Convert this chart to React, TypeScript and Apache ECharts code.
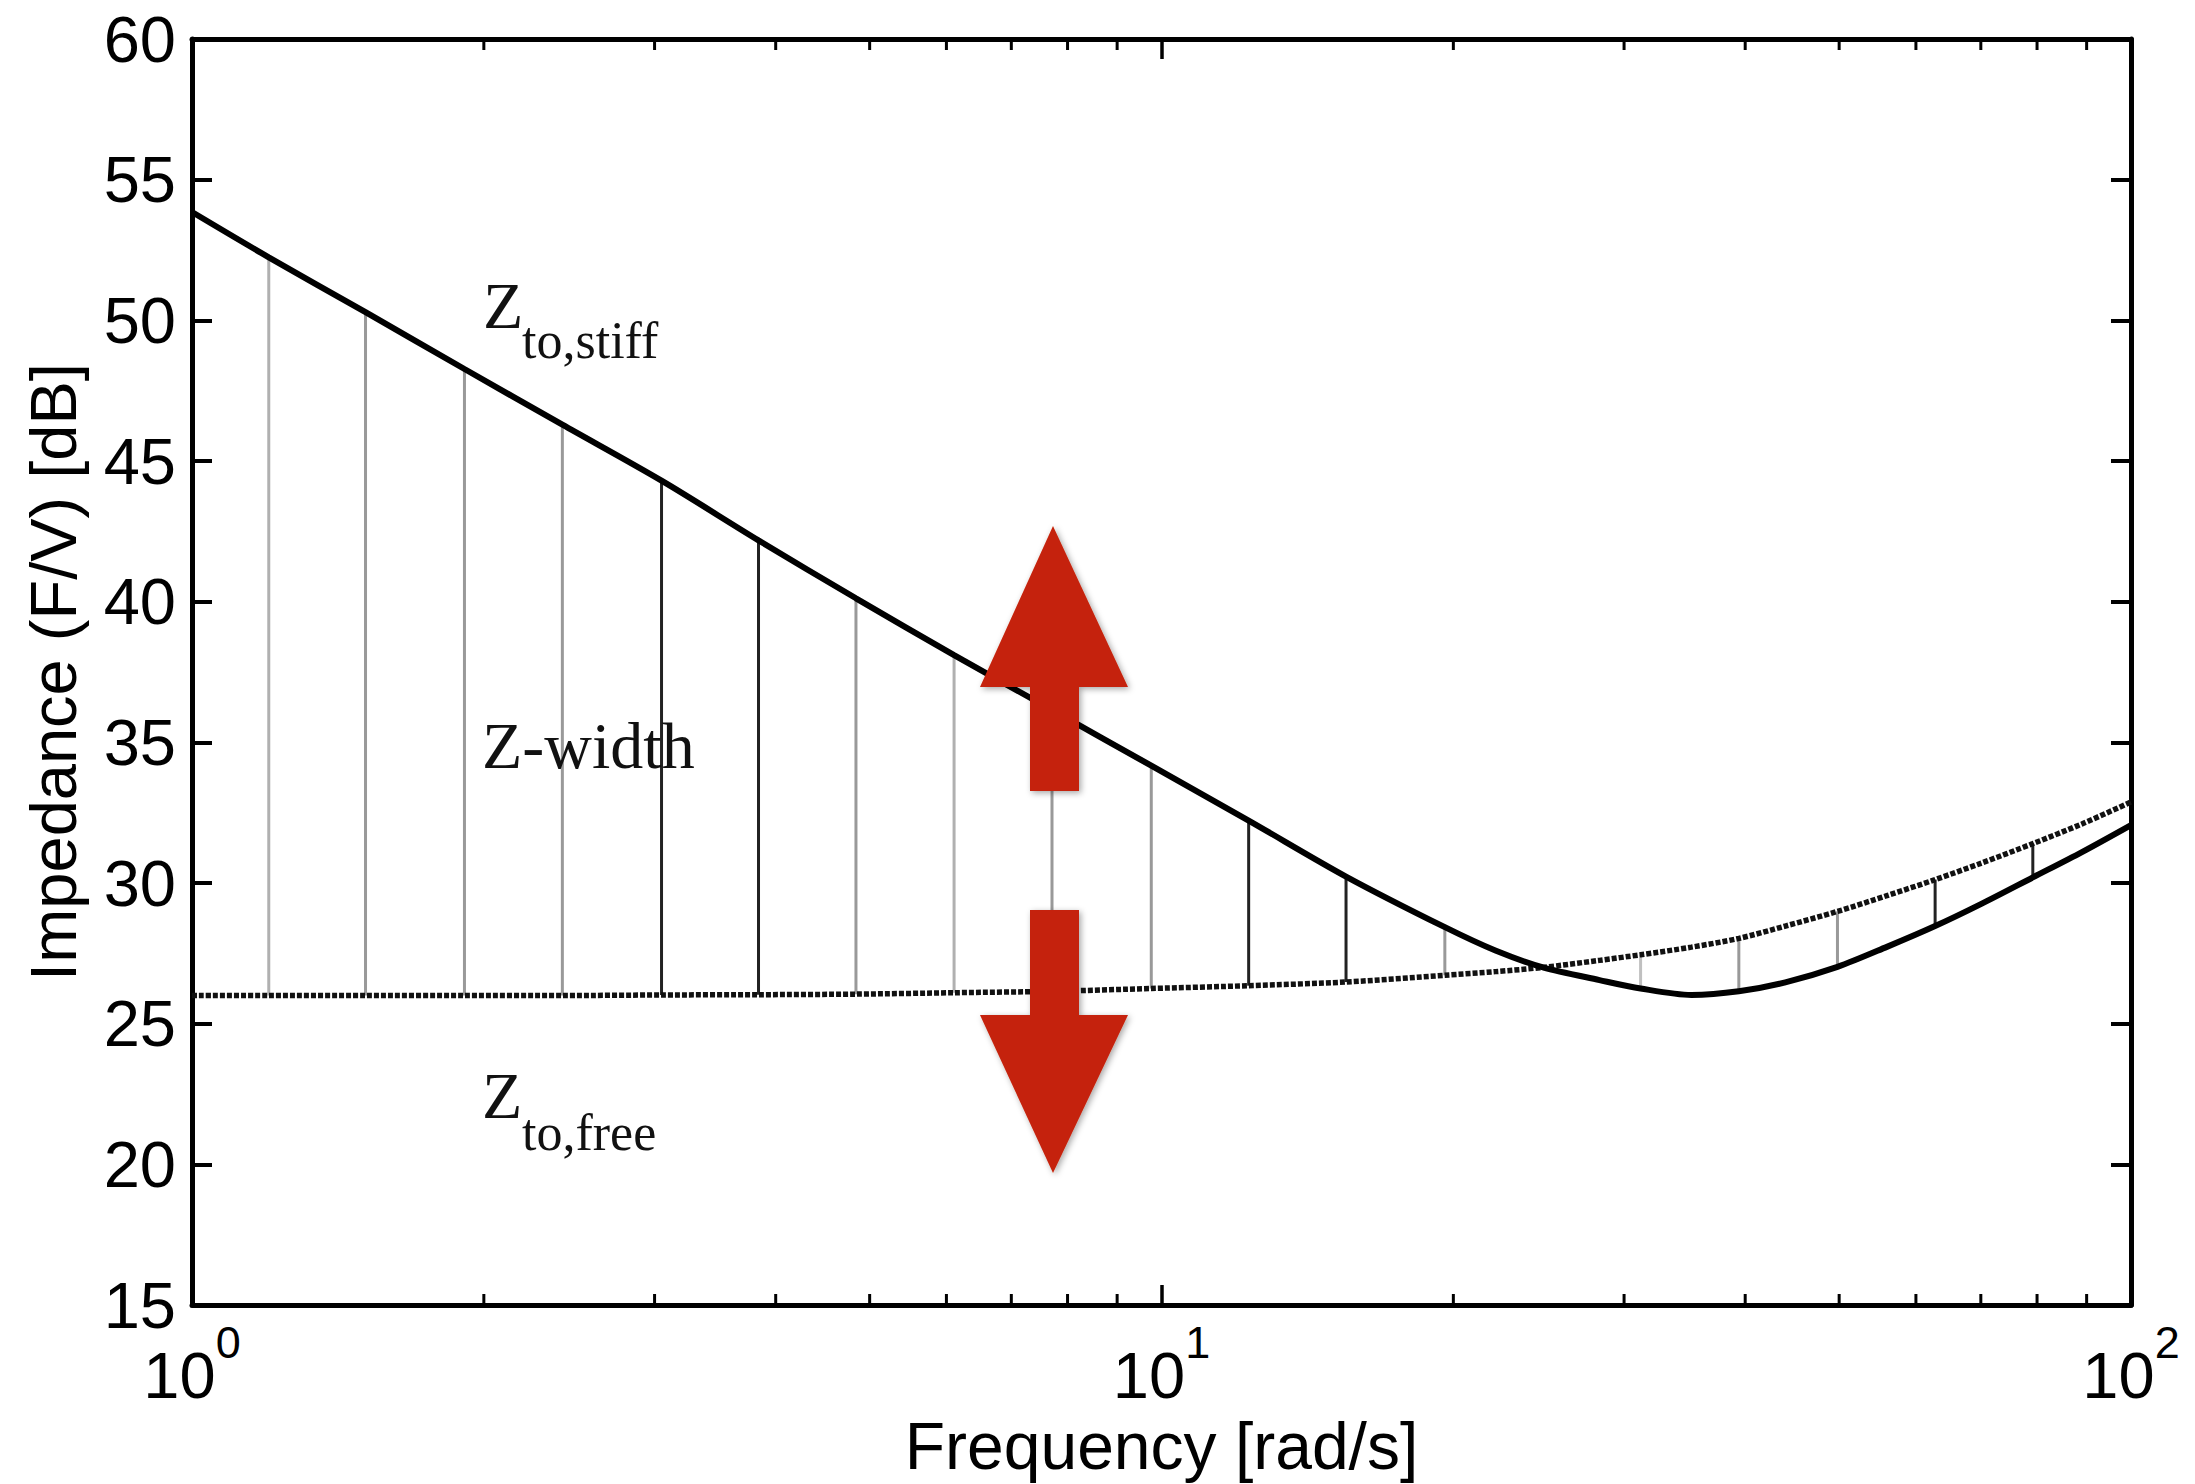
import React, { useEffect, useRef } from "react";
import * as echarts from "echarts";

// ---- data ----
const FREQ = [1, 1.2, 1.51, 1.91, 2.41, 3.05, 3.84, 4.84, 6.11, 7.71, 9.76, 12.3, 15.5, 19.6, 22.1, 24.75, 28.3, 31.2, 35.2, 39.4, 44, 49.8, 56, 62.8, 70, 79.2, 89, 100];
const Z_STIFF = [53.85, 52.24, 50.29, 48.27, 46.29, 44.3, 42.18, 40.12, 38.1, 36.15, 34.17, 32.22, 30.23, 28.43, 27.6, 27.0, 26.55, 26.25, 26.02, 26.15, 26.47, 27.02, 27.73, 28.47, 29.25, 30.2, 31.1, 32.06];
const Z_FREE = [26.0, 26.0, 26.0, 26.0, 26.0, 26.02, 26.03, 26.05, 26.1, 26.15, 26.25, 26.35, 26.48, 26.72, 26.85, 27.0, 27.25, 27.45, 27.72, 28.03, 28.47, 28.99, 29.55, 30.12, 30.7, 31.4, 32.1, 32.88];
const STEM_FREQ = [1.2, 1.51, 1.91, 2.41, 3.05, 3.84, 4.84, 6.11, 7.71, 9.76, 12.3, 15.5, 19.6, 31.2, 39.4, 49.8, 62.8, 79.2];
const MINOR_TICKS = [2, 3, 4, 5, 6, 7, 8, 9, 20, 30, 40, 50, 60, 70, 80, 90];
const Y_MIN = 15;
const Y_MAX = 60;
const Y_STEP = 5;
const X_MIN = 1;
const X_MAX = 100;

const X_TITLE = "Frequency [rad/s]";
const Y_TITLE = "Impedance (F/V) [dB]";

// ---- styles ----
const STEM_COLORS = ["#b0b0b0", "#999999", "#999999", "#999999", "#222222", "#222222", "#999999", "#b0b0b0", "#999999", "#999999", "#222222", "#222222", "#999999", "#c0c0c0", "#999999", "#999999", "#222222", "#222222"];
const SANS = "'Liberation Sans', Arial, Helvetica, sans-serif";
const SERIF = "'Liberation Serif', 'Times New Roman', Times, serif";
const RED = "#c5240a";

function txt(text: string, x: number, y: number, size: number) {
  return {
    type: "text",
    x,
    y,
    z: 50,
    style: {
      text,
      fontSize: size,
      fontFamily: SERIF,
      fill: "#111",
      align: "left",
      verticalAlign: "middle",
      textAlign: "left",
      textVerticalAlign: "middle",
    },
  };
}

function arrow(points: number[][]) {
  return {
    type: "polygon",
    z: 60,
    shape: { points },
    style: {
      fill: RED,
      shadowBlur: 6,
      shadowOffsetX: 2,
      shadowOffsetY: 2,
      shadowColor: "rgba(0,0,0,0.35)",
    },
  };
}

export default function App() {
  const ref = useRef<HTMLDivElement>(null);

  useEffect(() => {
    if (!ref.current) return;
    const chart = echarts.init(ref.current, null, { renderer: "svg" });

    const stiffData = FREQ.map((f, i) => [f, Z_STIFF[i]]);
    const freeData = FREQ.map((f, i) => [f, Z_FREE[i]]);
    const stemData = STEM_FREQ.map((f) => {
      const i = FREQ.indexOf(f);
      return [f, Z_STIFF[i], Z_FREE[i]];
    });

    const axisLine = { show: true, onZero: false, lineStyle: { color: "#000", width: 5 } };

    const option: any = {
      animation: false,
      backgroundColor: "#fff",
      grid: { left: 192, top: 39, right: 64, bottom: 175, containLabel: false },
      xAxis: [
        {
          type: "log",
          logBase: 10,
          min: X_MIN,
          max: X_MAX,
          position: "bottom",
          axisLine,
          axisTick: { show: true, inside: true, length: 20, lineStyle: { color: "#000", width: 3.5 } },
          splitLine: { show: false },
          axisLabel: {
            margin: 15,
            formatter: (v: number) => `{b|10}{s|${Math.round(Math.log10(v))}}`,
            rich: {
              b: { fontSize: 65, lineHeight: 65, fontFamily: SANS, color: "#000", verticalAlign: "bottom" },
              s: { fontSize: 45, lineHeight: 88, fontFamily: SANS, color: "#000", verticalAlign: "top", padding: [0, 0, 43, 0] },
            },
          },
          name: X_TITLE,
          nameLocation: "middle",
          nameGap: 108,
          nameTextStyle: { fontSize: 66, fontFamily: SANS, color: "#000" },
        },
        {
          type: "log",
          logBase: 10,
          min: X_MIN,
          max: X_MAX,
          position: "top",
          axisLine,
          axisTick: { show: true, inside: true, length: 20, lineStyle: { color: "#000", width: 3.5 } },
          axisLabel: { show: false },
          splitLine: { show: false },
        },
      ],
      yAxis: [
        {
          type: "value",
          min: Y_MIN,
          max: Y_MAX,
          interval: Y_STEP,
          position: "left",
          axisLine,
          axisTick: { show: true, inside: true, length: 20, lineStyle: { color: "#000", width: 4 } },
          splitLine: { show: false },
          axisLabel: { fontSize: 65, fontFamily: SANS, color: "#000", margin: 16 },
          name: Y_TITLE,
          nameLocation: "middle",
          nameRotate: 90,
          nameGap: 106,
          nameTextStyle: { fontSize: 65, fontFamily: SANS, color: "#000" },
        },
        {
          type: "value",
          min: Y_MIN,
          max: Y_MAX,
          interval: Y_STEP,
          position: "right",
          axisLine,
          axisTick: { show: true, inside: true, length: 20, lineStyle: { color: "#000", width: 4 } },
          splitLine: { show: false },
          axisLabel: { show: false },
        },
      ],
      series: [
        {
          type: "custom",
          name: "stems",
          xAxisIndex: 0,
          yAxisIndex: 0,
          z: 1,
          silent: true,
          data: stemData,
          renderItem: (params: any, api: any) => {
            const f = api.value(0);
            const p1 = api.coord([f, api.value(1)]);
            const p2 = api.coord([f, api.value(2)]);
            return {
              type: "line",
              shape: { x1: p1[0], y1: p1[1], x2: p2[0], y2: p2[1] },
              style: { stroke: STEM_COLORS[params.dataIndex] || "#999", lineWidth: 3 },
            };
          },
        },
        {
          type: "custom",
          name: "minorTicks",
          xAxisIndex: 0,
          yAxisIndex: 0,
          z: 5,
          silent: true,
          clip: false,
          data: MINOR_TICKS.map((v) => [v, Y_MIN]),
          renderItem: (_params: any, api: any) => {
            const v = api.value(0);
            const pb = api.coord([v, Y_MIN]);
            const pt = api.coord([v, Y_MAX]);
            return {
              type: "group",
              children: [
                { type: "line", shape: { x1: pb[0], y1: pb[1], x2: pb[0], y2: pb[1] - 11 }, style: { stroke: "#000", lineWidth: 3 } },
                { type: "line", shape: { x1: pt[0], y1: pt[1], x2: pt[0], y2: pt[1] + 11 }, style: { stroke: "#000", lineWidth: 3 } },
              ],
            };
          },
        },
        {
          type: "line",
          name: "Z_to,free",
          xAxisIndex: 0,
          yAxisIndex: 0,
          z: 3,
          data: freeData,
          showSymbol: false,
          smooth: 0.3,
          lineStyle: { color: "#111", width: 5.5, type: [5, 2], cap: "butt" },
        },
        {
          type: "line",
          name: "Z_to,stiff",
          xAxisIndex: 0,
          yAxisIndex: 0,
          z: 4,
          data: stiffData,
          showSymbol: false,
          smooth: 0.3,
          lineStyle: { color: "#000", width: 6 },
        },
      ],
      graphic: [
        txt("Z", 483, 305, 66),
        txt("to,stiff", 522, 340, 52),
        txt("Z-width", 482, 745, 66),
        txt("Z", 482, 1095, 66),
        txt("to,free", 522, 1132, 52),
        arrow([
          [1053, 526],
          [1128, 687],
          [1079, 687],
          [1079, 791],
          [1030, 791],
          [1030, 687],
          [980, 687],
        ]),
        arrow([
          [1030, 910],
          [1079, 910],
          [1079, 1015],
          [1128, 1015],
          [1053, 1173],
          [980, 1015],
          [1030, 1015],
        ]),
      ],
    };

    chart.setOption(option);
    return () => chart.dispose();
  }, []);

  return (
    <div
      ref={ref}
      style={{ position: "absolute", left: 0, top: 0, width: 2195, height: 1484, background: "#fff" }}
    />
  );
}
